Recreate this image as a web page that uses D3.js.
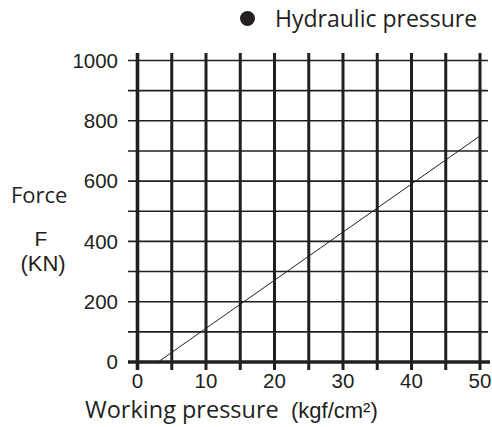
<!DOCTYPE html>
<html><head><meta charset="utf-8">
<script src="https://cdn.jsdelivr.net/npm/d3@7"></script>
<style>html,body{margin:0;padding:0;background:#fff;}svg{display:block;}</style>
</head><body>
<svg id="c" width="492" height="427"></svg>
<script>
const seriesName = "Hydraulic pressure";
const pressure = [3, 50];
const force = [0, 750];
const xTicks = [0, 10, 20, 30, 40, 50];
const xGrid = [5, 10, 15, 20, 25, 30, 35, 40, 45, 50];
const yTicks = [0, 200, 400, 600, 800, 1000];
const yGrid = [100, 200, 300, 400, 500, 600, 700, 800, 900, 1000];

const ink = "#231f20";
const svg = d3.select("#c");
const x = d3.scaleLinear().domain([0, 50]).range([137.5, 480]);
const y = d3.scaleLinear().domain([0, 1000]).range([362, 60.5]);
const numFont = "'Liberation Sans', Arial, sans-serif";
const txtFont = "'Open Sans', 'Noto Sans', sans-serif";

// horizontal grid
svg.append("g").selectAll("line").data(yGrid).join("line")
  .attr("x1", 128).attr("x2", 488)
  .attr("y1", d => y(d)).attr("y2", d => y(d))
  .attr("stroke", ink).attr("stroke-width", 1.6);

// vertical grid
svg.append("g").selectAll("line").data(xGrid).join("line")
  .attr("x1", d => x(d)).attr("x2", d => x(d))
  .attr("y1", 53).attr("y2", 370)
  .attr("stroke", ink).attr("stroke-width", 3);

// axes
svg.append("line").attr("x1", x(0)).attr("x2", x(0)).attr("y1", 53).attr("y2", 370)
  .attr("stroke", ink).attr("stroke-width", 3.6);
svg.append("line").attr("x1", 128).attr("x2", 490).attr("y1", y(0)).attr("y2", y(0))
  .attr("stroke", ink).attr("stroke-width", 3.6);

// y tick labels
svg.append("g").selectAll("text").data(yTicks).join("text")
  .attr("x", 118).attr("y", d => y(d)).attr("dy", "0.36em")
  .attr("text-anchor", "end").attr("font-family", numFont).attr("font-size", 20.5)
  .attr("fill", ink).text(d => d);

// x tick labels
svg.append("g").selectAll("text").data(xTicks).join("text")
  .attr("x", d => x(d)).attr("y", 387.5)
  .attr("text-anchor", "middle").attr("font-family", numFont).attr("font-size", 20.5)
  .attr("fill", ink).text(d => d);

// line
const pts = pressure.map((p, i) => [p, force[i]]);
svg.append("path").datum(pts)
  .attr("d", d3.line().x(d => x(d[0])).y(d => y(d[1])))
  .attr("fill", "none").attr("stroke", ink).attr("stroke-width", 1);

// axis titles
svg.append("text").attr("x", 11).attr("y", 203).attr("font-family", txtFont)
  .attr("font-size", 22).attr("fill", ink).text("Force");
svg.append("text").attr("x", 41).attr("y", 246).attr("text-anchor", "middle").attr("font-family", numFont)
  .attr("font-size", 21).attr("fill", ink).text("F");
svg.append("text").attr("x", 43).attr("y", 271).attr("text-anchor", "middle").attr("font-family", numFont)
  .attr("font-size", 22).attr("fill", ink).text("(KN)");
svg.append("text").attr("x", 85).attr("y", 418).attr("font-family", txtFont)
  .attr("font-size", 23.5).attr("fill", ink).text("Working pressure");
svg.append("text").attr("x", 291).attr("y", 418).attr("font-family", numFont)
  .attr("font-size", 22).attr("fill", ink).text("(kgf/cm²)");

// legend
svg.append("circle").attr("cx", 247.5).attr("cy", 18.5).attr("r", 7.5).attr("fill", ink);
svg.append("text").attr("x", 275).attr("y", 27).attr("font-family", txtFont)
  .attr("font-size", 23).attr("fill", ink).text(seriesName);
</script>
</body></html>
